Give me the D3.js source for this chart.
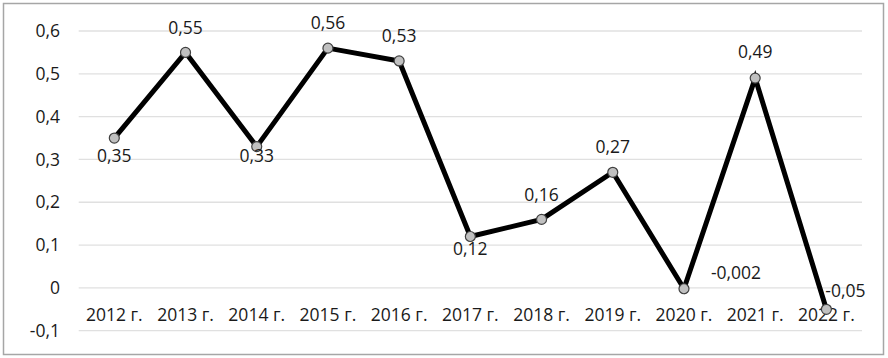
<!DOCTYPE html>
<html>
<head>
<meta charset="utf-8">
<script src="https://cdn.jsdelivr.net/npm/d3@7"></script>
<style>
  body { margin: 0; background: #fff; }
  text { font-family: "Open Sans", sans-serif; }
</style>
</head>
<body>
<div id="chart"></div>
<script>
const width = 888, height = 358;

// data
const years = ["2012 г.", "2013 г.", "2014 г.", "2015 г.", "2016 г.", "2017 г.",
               "2018 г.", "2019 г.", "2020 г.", "2021 г.", "2022 г."];
const values = [0.35, 0.55, 0.33, 0.56, 0.53, 0.12, 0.16, 0.27, -0.002, 0.49, -0.05];
const yTicks = [-0.1, 0, 0.1, 0.2, 0.3, 0.4, 0.5, 0.6];

// label placement (style, not data)
const labelOffsets = [
  [0, 18], [0, -25], [0, 9], [0, -25], [0, -25], [0, 12],
  [0, -25], [0, -25], [52, -16], [0, -26], [19, -18]
];

const ru = d3.formatLocale({ decimal: ",", thousands: " ", grouping: [3], currency: ["", ""], minus: "-" });
const fmtTick = v => Math.abs(v) < 1e-9 ? "0" : ru.format(".1f")(v);
const fmtVal = v => String(v).replace(".", ",");

const svg = d3.select("#chart").append("svg")
  .attr("width", width)
  .attr("height", height);

// outer border
svg.append("rect")
  .attr("x", 3.5).attr("y", 3.5)
  .attr("width", 880).attr("height", 351)
  .attr("fill", "#fff")
  .attr("stroke", "#a6a6a6")
  .attr("stroke-width", 1.5);

const x = d3.scaleBand().domain(years).range([78.7, 862]);
const y = d3.scaleLinear().domain([-0.1, 0.6]).range([330.7, 31]);

// gridlines
svg.append("g")
  .selectAll("line")
  .data(yTicks)
  .join("line")
  .attr("x1", 78.7).attr("x2", 862)
  .attr("y1", d => y(d)).attr("y2", d => y(d))
  .attr("stroke", "#e0e0e0")
  .attr("stroke-width", 1.3);

// y axis
const yAxis = svg.append("g")
  .attr("transform", "translate(60,0)")
  .call(d3.axisLeft(y).tickValues(yTicks).tickFormat(fmtTick).tickSize(0).tickPadding(0));
yAxis.select(".domain").remove();
yAxis.selectAll("text")
  .style("font-family", "'Open Sans', sans-serif")
  .style("font-size", "17.5px")
  .attr("fill", "#1a1a1a");

// x axis (labels sit below zero line)
const xAxis = svg.append("g")
  .attr("transform", "translate(0," + y(0) + ")")
  .call(d3.axisBottom(x).tickSize(0).tickPadding(21));
xAxis.select(".domain").remove();
xAxis.selectAll("text")
  .style("font-family", "'Open Sans', sans-serif")
  .style("font-size", "17.5px")
  .attr("fill", "#1a1a1a");

// line
const line = d3.line()
  .x((d, i) => x(years[i]) + x.bandwidth() / 2)
  .y(d => y(d));

svg.append("path")
  .datum(values)
  .attr("fill", "none")
  .attr("stroke", "#000")
  .attr("stroke-width", 5)
  .attr("stroke-linejoin", "miter")
  .attr("d", line);

// markers
svg.append("g")
  .selectAll("circle")
  .data(values)
  .join("circle")
  .attr("cx", (d, i) => x(years[i]) + x.bandwidth() / 2)
  .attr("cy", d => y(d))
  .attr("r", 5)
  .attr("fill", "#c0c0c0")
  .attr("stroke", "#404040")
  .attr("stroke-width", 1.2);

// data labels
svg.append("g")
  .selectAll("text")
  .data(values)
  .join("text")
  .attr("x", (d, i) => x(years[i]) + x.bandwidth() / 2 + labelOffsets[i][0])
  .attr("y", (d, i) => y(d) + labelOffsets[i][1])
  .attr("dy", "0.35em")
  .attr("text-anchor", "middle")
  .style("font-size", "17.5px")
  .attr("fill", "#1a1a1a")
  .text(d => fmtVal(d));
</script>
</body>
</html>
